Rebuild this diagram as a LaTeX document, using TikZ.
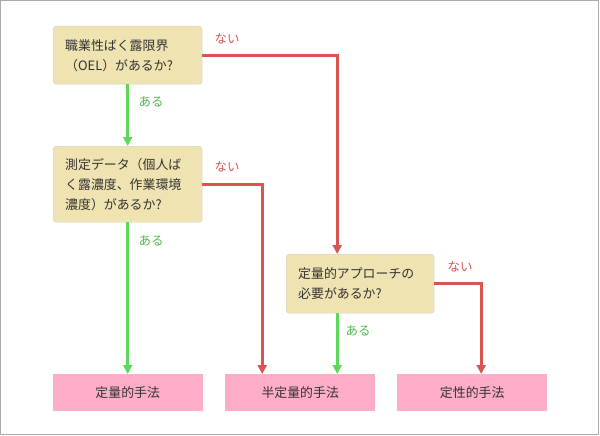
\documentclass[tikz,border=0pt]{standalone}
\usepackage{fontspec}
\setmainfont{Noto Sans CJK JP}
\usetikzlibrary{arrows.meta}

\definecolor{qfill}{HTML}{EFE3B1}
\definecolor{mfill}{HTML}{FEADC8}
\definecolor{nored}{HTML}{DB5550}
\definecolor{yesgreen}{HTML}{5ED85A}
\definecolor{inkgray}{HTML}{333333}

\begin{document}
\begin{tikzpicture}[x=1pt,y=-1pt,>={Triangle[width=9pt,length=9pt]},
  question/.style={draw=black!18,fill=qfill,rounded corners=3pt,anchor=north west,
    text width=125pt,inner xsep=12pt,inner ysep=0pt,align=left,text=inkgray,
    font=\fontsize{12.9pt}{20pt}\selectfont},
  method/.style={fill=mfill,anchor=north west,minimum width=150pt,minimum height=37pt,
    inner sep=0pt,text=inkgray,font=\fontsize{12.9pt}{16pt}\selectfont},
  yes/.style={draw=yesgreen,line width=3pt,->},
  no/.style={draw=nored,line width=3pt,->},
  yeslabel/.style={text=yesgreen!85!black,font=\fontsize{12.5pt}{14pt}\selectfont},
  nolabel/.style={text=nored,font=\fontsize{12.5pt}{14pt}\selectfont},
  ]

  \useasboundingbox (0,0) rectangle (600,436);
  \draw[black!33,line width=1pt] (0.5,0.5) rectangle (598.5,434.5);

  % questions
  \node[question,minimum height=58pt] (q1) at (53,26) {職業性ばく露限界\\（OEL）があるか?};
  \node[question,minimum height=76pt] (q2) at (53,146) {測定データ（個人ば\\く露濃度、作業環境\\濃度）があるか?};
  \node[question,minimum height=59pt,text width=124pt] (q3) at (286,254) {定量的アプローチの\\必要があるか?};

  % methods
  \node[method] (m1) at (52.5,374) {定量的手法};
  \node[method] (m2) at (225,374) {半定量的手法};
  \node[method] (m3) at (397,374) {定性的手法};

  % connectors
  \draw[yes] (q1) -- (q2);
  \draw[yes] (q2) -- (m1);
  \draw[no] (q1.east) -| ([xshift=-23pt]q3.north);
  \draw[no] (q2.east) -| ([xshift=-38pt]m2.north);
  \draw[yes] ([xshift=-23pt]q3.south) -- ([xshift=-23pt]q3.south |- m2.north);
  \draw[no] (q3.east) -| ([xshift=9pt]m3.north);

  % labels
  \node[nolabel] (n1) at (227,39) {ない};
  \node[yeslabel] (y1) at (151,102) {ある};
  \node[nolabel] (n2) at (227,167) {ない};
  \node[yeslabel] (y2) at (151,241) {ある};
  \node[nolabel] (n3) at (460,267) {ない};
  \node[yeslabel] (y3) at (358,331) {ある};

\end{tikzpicture}
\end{document}
